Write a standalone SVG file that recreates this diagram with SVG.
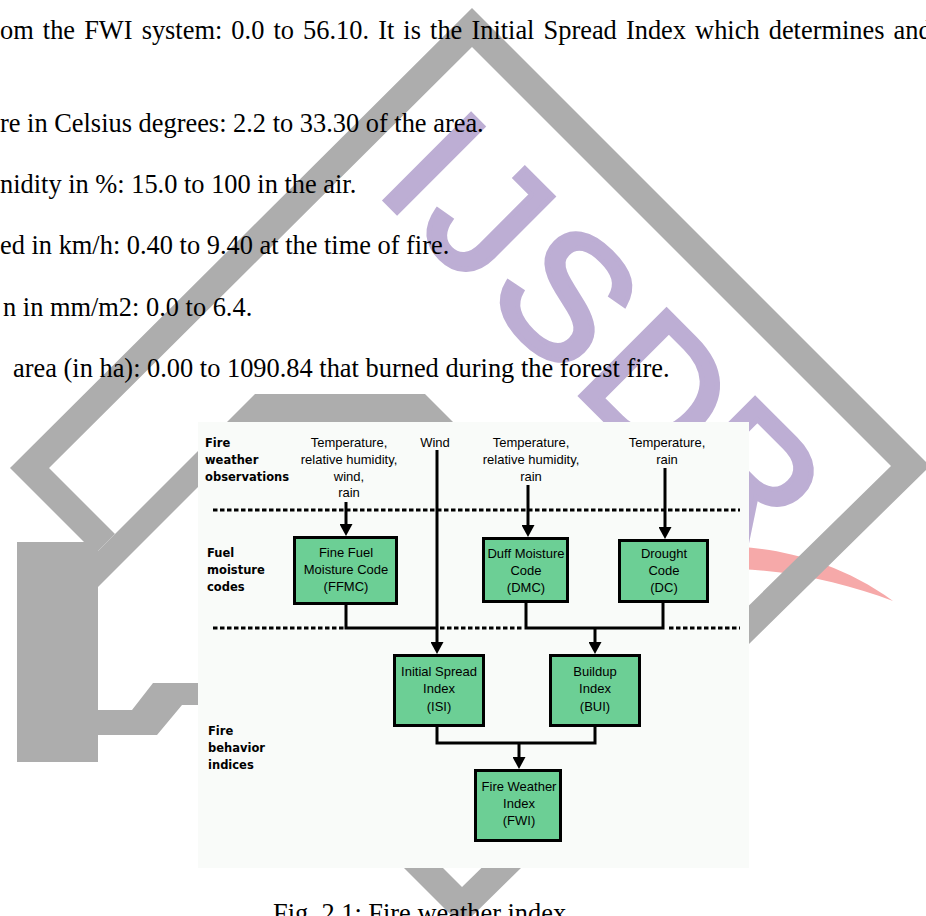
<svg xmlns="http://www.w3.org/2000/svg" width="926" height="916" viewBox="0 0 926 916">
<style>
.body{font-family:"Liberation Serif","Times New Roman",serif;font-size:26.4px;fill:#000}
.lbl{font-family:"DejaVu Sans",Verdana,sans-serif;font-weight:bold;font-size:11.5px;fill:#000}
.t{font-family:"Liberation Sans",Arial,sans-serif;font-size:13px;fill:#000;text-anchor:middle}
.box{fill:#6ccf95;stroke:#000;stroke-width:3}
.gray{fill:#adadad}
.ln{fill:none;stroke:#000;stroke-width:3}
.dash{fill:none;stroke:#000;stroke-width:3;stroke-dasharray:4.5 2.5}
</style>
<defs>
<marker id="arr" viewBox="0 0 12 13" refX="6" refY="6.5" markerWidth="12" markerHeight="13" markerUnits="userSpaceOnUse" orient="auto"><path d="M0,0 L12,6.5 L0,13 z" fill="#000"/></marker>
</defs>
<rect width="926" height="916" fill="#fff"/>
<g id="watermark">
<path d="M740,547 C780,549 840,562 893,601 C850,585 800,572 740,569 Z" fill="#f6a9a9"/>
<text transform="translate(374,189) rotate(45)" font-family="Liberation Sans,Arial,sans-serif" font-size="176" letter-spacing="8" fill="#bdaed4" stroke="#bdaed4" stroke-width="5">IJSD<tspan dx="-10">R</tspan></text>
<polygon class="gray" points="472,8 10,468 84,542 98,542 98,551 115,534 49,468 472,47"/>
<rect class="gray" x="17" y="542" width="81" height="220"/>
<polygon class="gray" points="98,710 132,710 153,683 260,683 260,705 182,705 157,735 98,735"/>
<polygon class="gray" points="98,587 98,551 255,394 425,394 470,439 260,600 198,487"/>
<polygon class="gray" points="472,8 930,466 462,926 300,764 300,725 462,887 891,466 472,47"/>
</g>
<g id="page-text">
<text class="body" x="0" y="39" word-spacing="2.5">om the FWI system: 0.0 to 56.10. It is the Initial Spread Index which determines and</text>
<text class="body" x="0" y="132">re in Celsius degrees: 2.2 to 33.30 of the area.</text>
<text class="body" x="0" y="193">nidity in %: 15.0 to 100 in the air.</text>
<text class="body" x="0" y="254">ed in km/h: 0.40 to 9.40 at the time of fire.</text>
<text class="body" x="3" y="316">n in mm/m2: 0.0 to 6.4.</text>
<text class="body" x="13" y="377">area (in ha): 0.00 to 1090.84 that burned during the forest fire.</text>
<text class="body" x="273" y="922">Fig. 2.1: Fire weather index</text>
</g>
<g id="diagram">
<rect x="198" y="422" width="551" height="446" fill="#f9fbf9"/>
<g id="row-labels">
<text class="lbl" x="205" y="446.5">Fire</text>
<text class="lbl" x="205" y="463.5">weather</text>
<text class="lbl" x="205" y="480.5">observations</text>
<text class="lbl" x="207" y="556.5">Fuel</text>
<text class="lbl" x="207" y="573.5">moisture</text>
<text class="lbl" x="207" y="590.5">codes</text>
<text class="lbl" x="208" y="735">Fire</text>
<text class="lbl" x="208" y="752">behavior</text>
<text class="lbl" x="208" y="769">indices</text>
</g>
<g id="connectors">
<line class="dash" x1="213" y1="510" x2="740" y2="510"/>
<line class="dash" x1="213" y1="628" x2="345" y2="628"/>
<line class="dash" x1="440" y1="628" x2="522" y2="628"/>
<line class="dash" x1="669" y1="628" x2="740" y2="628"/>
<line class="ln" x1="346" y1="502" x2="346" y2="530" marker-end="url(#arr)"/>
<line class="ln" x1="437" y1="450" x2="437" y2="648" marker-end="url(#arr)"/>
<line class="ln" x1="528" y1="485" x2="528" y2="531" marker-end="url(#arr)"/>
<line class="ln" x1="665" y1="468" x2="665" y2="533" marker-end="url(#arr)"/>
<path class="ln" d="M346,605 V628 H437"/>
<path class="ln" d="M526,603 V628 H663 V603"/>
<line class="ln" x1="595" y1="628" x2="595" y2="648" marker-end="url(#arr)"/>
<path class="ln" d="M437,727 V743 H595 V727"/>
<line class="ln" x1="519" y1="743" x2="519" y2="763" marker-end="url(#arr)"/>
</g>
<g id="in-ffmc">
<text class="t" x="349" y="446.5">Temperature,</text>
<text class="t" x="349" y="463.5">relative humidity,</text>
<text class="t" x="349" y="480.5">wind,</text>
<text class="t" x="349" y="497">rain</text>
</g>
<g id="in-wind"><text class="t" x="435" y="446.5">Wind</text></g>
<g id="in-dmc">
<text class="t" x="531" y="446.5">Temperature,</text>
<text class="t" x="531" y="463.5">relative humidity,</text>
<text class="t" x="531" y="480.5">rain</text>
</g>
<g id="in-dc">
<text class="t" x="667" y="446.5">Temperature,</text>
<text class="t" x="667" y="463.5">rain</text>
</g>
<g id="ffmc">
<rect class="box" x="294.5" y="537.5" width="102" height="66"/>
<text class="t" x="346" y="557">Fine Fuel</text>
<text class="t" x="346" y="574">Moisture Code</text>
<text class="t" x="346" y="591">(FFMC)</text>
</g>
<g id="dmc">
<rect class="box" x="483.5" y="538.5" width="84" height="63"/>
<text class="t" x="526" y="558">Duff Moisture</text>
<text class="t" x="526" y="575">Code</text>
<text class="t" x="526" y="592">(DMC)</text>
</g>
<g id="dc">
<rect class="box" x="619.5" y="540.5" width="88" height="61"/>
<text class="t" x="664" y="558">Drought</text>
<text class="t" x="664" y="575">Code</text>
<text class="t" x="664" y="592">(DC)</text>
</g>
<g id="isi">
<rect class="box" x="394.5" y="655.5" width="89" height="70"/>
<text class="t" x="439" y="676">Initial Spread</text>
<text class="t" x="439" y="693">Index</text>
<text class="t" x="439" y="711">(ISI)</text>
</g>
<g id="bui">
<rect class="box" x="550.5" y="655.5" width="89" height="70"/>
<text class="t" x="595" y="676">Buildup</text>
<text class="t" x="595" y="693">Index</text>
<text class="t" x="595" y="711">(BUI)</text>
</g>
<g id="fwi">
<rect class="box" x="475.5" y="770.5" width="85" height="70"/>
<text class="t" x="519" y="791">Fire Weather</text>
<text class="t" x="519" y="808">Index</text>
<text class="t" x="519" y="825">(FWI)</text>
</g>
</g>
</svg>
